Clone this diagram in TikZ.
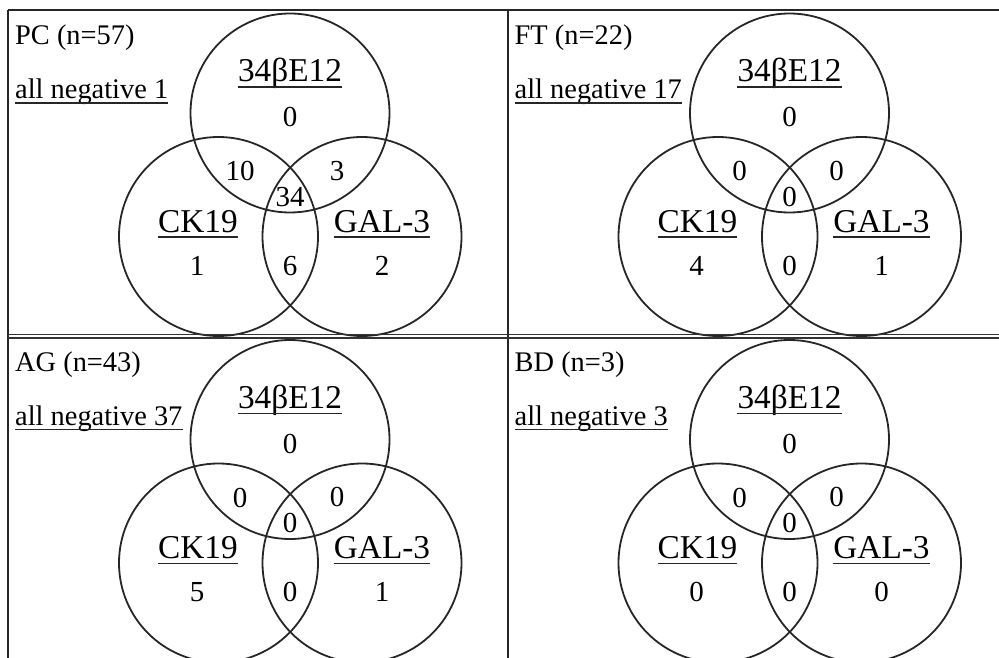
\documentclass[tikz,border=0pt]{standalone}
\usepackage{fontspec}
\setmainfont{Liberation Serif}
\newcommand{\vennpanel}[9]{%
  \draw[ring] (290,113) circle[radius=99.5];
  \draw[ring] (218.5,236.5) circle[radius=99.5];
  \draw[ring] (362,236.5) circle[radius=99.5];
  \node[ttl] (title) at (15,45) {#1};
  \node[ttl] (neg) at (15,99) {all negative #2};
  \draw[uline] ([yshift=-4pt]neg.base west) -- ([yshift=-4pt]neg.base east);
  \node[lab] (labA) at (290,82) {34βE12};
  \node[lab] (labB) at (198,232) {CK19};
  \node[lab] (labC) at (382,232) {GAL-3};
  \foreach \l in {labA,labB,labC}{\draw[uline] ([yshift=-5pt]\l.base west) -- ([yshift=-5pt]\l.base east);}
  \node[num] (nA) at (290,126.5) {#3};
  \node[num] (nAB) at (240,181) {#4};
  \node[num] (nAC) at (337,180) {#5};
  \node[num] (nABC) at (290,206) {#6};
  \node[num] (nB) at (197,275) {#7};
  \node[num] (nBC) at (290,275) {#8};
  \node[num] (nC) at (382,275) {#9};
}
\begin{document}
\begin{tikzpicture}[x=1pt,y=-1pt,
  ring/.style={line width=1.8pt, black!85},
  frame/.style={line width=2pt, black!85},
  num/.style={font=\fontsize{29}{31}\selectfont, inner sep=0pt, anchor=base},
  lab/.style={font=\fontsize{33.3}{35}\selectfont, inner sep=0pt, anchor=base},
  ttl/.style={font=\fontsize{28.4}{30}\selectfont, inner sep=0pt, anchor=base west},
  uline/.style={line width=1.3pt, black!85}]
\useasboundingbox (0,0) rectangle (999,658);
\clip (0,0) rectangle (999,658);
\begin{scope}[name prefix=pc-]
  \vennpanel{PC (n=57)}{1}{0}{10}{3}{34}{1}{6}{2}
\end{scope}
\begin{scope}[shift={(499.5,0)}, name prefix=ft-]
  \vennpanel{FT (n=22)}{17}{0}{0}{0}{0}{4}{0}{1}
\end{scope}
\begin{scope}[shift={(0,326.5)}, name prefix=ag-]
  \vennpanel{AG (n=43)}{37}{0}{0}{0}{0}{5}{0}{1}
\end{scope}
\begin{scope}[shift={(499.5,326.5)}, name prefix=bd-]
  \vennpanel{BD (n=3)}{3}{0}{0}{0}{0}{0}{0}{0}
\end{scope}
\coordinate (tl) at (8,10);
\coordinate (tr) at (999,10);
\coordinate (bl) at (8,658);
\coordinate (mt) at (508,10);
\coordinate (mb) at (508,658);
\coordinate (hl1) at (8,334.5);
\coordinate (hr1) at (999,334.5);
\coordinate (hl2) at (8,338);
\coordinate (hr2) at (999,338);
\draw[frame] (tl) -- (tr);
\draw[frame] (tl) -- (bl);
\draw[line width=2.5pt, black!85] (mt) -- (mb);
\draw[line width=1.3pt, black!80] (hl1) -- (hr1);
\draw[line width=1.3pt, black!80] (hl2) -- (hr2);
\end{tikzpicture}
\end{document}
